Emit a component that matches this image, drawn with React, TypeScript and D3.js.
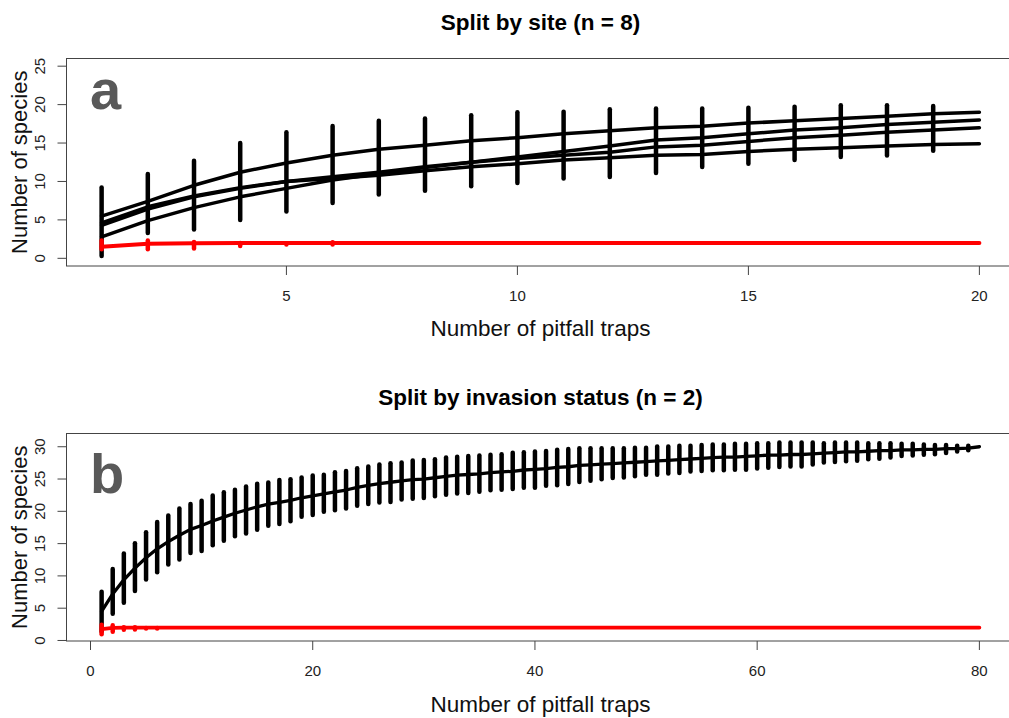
import React from 'react';
import * as d3 from 'd3';

// ---- panel a: split by site ----
const siteCurve1 = [5.5, 7.4, 9.5, 11.2, 12.4, 13.4, 14.2, 14.7, 15.3, 15.7, 16.2, 16.6, 17.0, 17.2, 17.6, 17.9, 18.2, 18.5, 18.8, 19.0];
const siteCurve2 = [2.8, 4.9, 6.6, 8.0, 9.1, 10.2, 11.0, 11.8, 12.5, 13.2, 13.9, 14.6, 15.4, 15.7, 16.2, 16.7, 17.0, 17.4, 17.7, 18.0];
const siteCurve3 = [4.3, 6.4, 8.0, 9.1, 10.0, 10.6, 11.2, 11.9, 12.5, 13.0, 13.4, 13.8, 14.5, 14.7, 15.2, 15.7, 16.0, 16.4, 16.7, 17.0];
const siteCurve4 = [4.6, 6.7, 8.1, 9.2, 10.0, 10.4, 10.8, 11.4, 11.9, 12.3, 12.8, 13.1, 13.4, 13.5, 13.9, 14.2, 14.4, 14.6, 14.8, 14.9];
const siteBarLow = [0.0, 3.0, 3.45, 4.7, 5.8, 6.9, 8.0, 8.5, 9.1, 9.5, 10.1, 10.3, 10.8, 11.6, 12.0, 12.5, 12.9, 13.1, 13.7];
const siteBarHigh = [9.5, 11.25, 13.0, 15.3, 16.7, 17.5, 18.2, 18.5, 18.9, 19.3, 19.35, 19.7, 19.8, 19.8, 19.9, 20.0, 20.2, 20.2, 20.1];
const siteRed = [1.5, 1.9, 1.95, 2.0, 2.0, 2.0, 2.0, 2.0, 2.0, 2.0, 2.0, 2.0, 2.0, 2.0, 2.0, 2.0, 2.0, 2.0, 2.0, 2.0];
const siteRedLow = [0.9, 0.9, 1.0, 1.3, 1.5, 1.8];
const siteRedHigh = [2.6, 2.6, 2.4, 2.3, 2.2, 2.1];
const siteXTicks = [5, 10, 15, 20];
const siteYTicks = [0, 5, 10, 15, 20, 25];

// ---- panel b: split by invasion status ----
const statusCurve = [4.5, 7.2, 9.4, 11.2, 12.8, 14.2, 15.3, 16.3, 17.2, 17.8, 18.5, 19.1, 19.7, 20.2, 20.7, 21.1, 21.4, 21.7, 22.1, 22.4,
  22.7, 23.0, 23.3, 23.7, 24.0, 24.3, 24.5, 24.7, 24.9, 25.0, 25.2, 25.4, 25.6, 25.7, 25.8, 26.0, 26.1, 26.2, 26.4, 26.5,
  26.6, 26.8, 26.9, 27.1, 27.2, 27.3, 27.4, 27.5, 27.6, 27.7, 27.8, 27.9, 28.0, 28.1, 28.2, 28.3, 28.4, 28.4, 28.5, 28.6,
  28.7, 28.7, 28.8, 28.8, 28.9, 29.0, 29.1, 29.2, 29.2, 29.3, 29.4, 29.4, 29.5, 29.5, 29.6, 29.6, 29.7, 29.7, 29.8, 30.0];
const statusBarLow = [1.0, 3.8, 5.5, 7.3, 9.1, 10.2, 11.4, 12.2, 13.2, 13.5, 14.4, 15.1, 15.8, 16.2, 16.8, 17.4, 17.7, 18.1, 18.8, 19.1,
  19.6, 19.8, 20.1, 20.5, 20.8, 21.0, 21.1, 21.5, 21.6, 21.7, 22.0, 22.2, 22.4, 22.5, 22.7, 22.9, 23.0, 23.1, 23.3, 23.3,
  23.6, 23.7, 23.9, 24.2, 24.4, 24.6, 24.8, 24.9, 25.1, 25.3, 25.3, 25.5, 25.6, 25.8, 25.9, 26.0, 26.0, 26.1, 26.1, 26.3,
  26.4, 26.5, 26.6, 26.6, 26.9, 27.2, 27.3, 27.4, 27.5, 27.7, 27.8, 28.0, 28.2, 28.3, 28.4, 28.5, 28.7, 28.9, 29.1];
const statusBarHigh = [7.9, 11.4, 13.8, 15.4, 17.1, 18.7, 19.7, 20.8, 21.5, 22.0, 22.8, 23.3, 23.7, 24.2, 24.6, 24.8, 25.2, 25.3, 25.6, 25.9,
  26.0, 26.4, 26.6, 27.0, 27.3, 27.6, 27.8, 27.9, 28.2, 28.3, 28.4, 28.7, 28.8, 28.9, 29.0, 29.1, 29.2, 29.4, 29.5, 29.6,
  29.7, 29.9, 30.0, 30.1, 30.1, 30.1, 30.1, 30.1, 30.2, 30.2, 30.4, 30.4, 30.5, 30.5, 30.6, 30.7, 30.7, 30.8, 30.8, 30.9,
  30.9, 31.0, 31.0, 31.0, 31.0, 30.9, 31.0, 31.0, 31.0, 30.9, 30.9, 30.9, 30.8, 30.8, 30.7, 30.6, 30.6, 30.5, 30.5];
const statusRedFirst = [1.75, 1.95];
const statusRedLevel = 2.0;
const statusRedLow = [0.6, 1.0, 1.3, 1.35, 1.5, 1.5];
const statusRedHigh = [2.8, 2.7, 2.4, 2.4, 2.3, 2.3];
const statusXTicks = [0, 20, 40, 60, 80];
const statusYTicks = [0, 5, 10, 15, 20, 25, 30];

const W = 1009;
const H = 718;
const FONT = '"Liberation Sans", Arial, Helvetica, sans-serif';

type Band = { lo: number[]; hi: number[] };

interface PanelProps {
  top: number;
  bottom: number;
  xDomain: [number, number];
  yDomain: [number, number];
  curves: number[][];
  bars: Band;
  red: number[];
  redBars: Band;
  xTicks: number[];
  yTicks: number[];
  title: string;
  titleY: number;
  letter: string;
  letterY: number;
  xLabelY: number;
  barWidth: number;
  lineWidth: number;
}

const Panel = (p: PanelProps) => {
  const left = 66.5;
  const right = 1014.5;
  const x = d3.scaleLinear().domain(p.xDomain).range([left, right]);
  const y = d3.scaleLinear().domain(p.yDomain).range([p.bottom, p.top]);
  const line = d3.line<number>().x((_, i) => x(i + 1)).y(d => y(d));
  const cap = p.barWidth / 2;

  const bar = (i: number, lo: number, hi: number, color: string, w: number, key: string) => (
    <line key={key} x1={x(i + 1)} x2={x(i + 1)} y1={y(lo) - cap} y2={y(hi) + cap}
      stroke={color} strokeWidth={w} strokeLinecap="round" />
  );

  return (
    <g>
      {/* black error bars and curves */}
      {p.bars.lo.map((lo, i) => bar(i, lo, p.bars.hi[i], '#000', p.barWidth, `b${i}`))}
      {p.curves.map((c, i) => (
        <path key={`c${i}`} d={line(c) || ''} fill="none" stroke="#000" strokeWidth={p.lineWidth}
          strokeLinejoin="round" strokeLinecap="round" />
      ))}
      {/* red series on top */}
      <path d={line(p.red) || ''} fill="none" stroke="#ff0000" strokeWidth={p.lineWidth + 0.5}
        strokeLinejoin="round" strokeLinecap="round" />
      {p.redBars.lo.map((lo, i) => bar(i, lo, p.redBars.hi[i], '#ff0000', p.barWidth, `r${i}`))}

      {/* box */}
      <rect x={left} y={p.top} width={right - left} height={p.bottom - p.top} fill="none" stroke="#444" strokeWidth={1} />

      {/* x axis */}
      {p.xTicks.map(t => (
        <g key={`xt${t}`}>
          <line x1={x(t)} x2={x(t)} y1={p.bottom} y2={p.bottom + 9} stroke="#444" />
          <text x={x(t)} y={p.bottom + 35} textAnchor="middle" fontSize={15} fill="#222" fontFamily={FONT}>{t}</text>
        </g>
      ))}
      {/* y axis */}
      {p.yTicks.map(t => (
        <g key={`yt${t}`}>
          <line x1={left - 9} x2={left} y1={y(t)} y2={y(t)} stroke="#444" />
          <text transform={`translate(45,${y(t)}) rotate(-90)`} textAnchor="middle" fontSize={15} fill="#222" fontFamily={FONT}>{t}</text>
        </g>
      ))}

      <text x={90} y={p.letterY} fontSize={56} fontWeight="bold" fill="#595959" fontFamily={FONT}>{p.letter}</text>
      <text x={(left + right) / 2} y={p.titleY} textAnchor="middle" fontSize={22.5} fontWeight="bold" fill="#000" fontFamily={FONT}>{p.title}</text>
      <text x={(left + right) / 2} y={p.xLabelY} textAnchor="middle" fontSize={22.5} fill="#111" fontFamily={FONT}>Number of pitfall traps</text>
      <text transform={`translate(27,${(p.top + p.bottom) / 2}) rotate(-90)`} textAnchor="middle" fontSize={22} fill="#111" fontFamily={FONT}>Number of species</text>
    </g>
  );
};

const App = () => {
  const statusRed = statusCurve.map((_, i) => (i < statusRedFirst.length ? statusRedFirst[i] : statusRedLevel));
  return (
    <svg width={W} height={H} style={{ position: 'absolute', left: 0, top: 0, background: '#fff' }}>
      <rect width={W} height={H} fill="#fff" />
      <Panel
        top={58.5} bottom={266}
        xDomain={[1 - 0.04 * 19, 20 + 0.04 * 19]} yDomain={[-1, 26]}
        curves={[siteCurve1, siteCurve2, siteCurve3, siteCurve4]}
        bars={{ lo: siteBarLow, hi: siteBarHigh }}
        red={siteRed}
        redBars={{ lo: siteRedLow, hi: siteRedHigh }}
        xTicks={siteXTicks} yTicks={siteYTicks}
        title="Split by site (n = 8)" titleY={30}
        letter="a" letterY={109}
        xLabelY={336}
        barWidth={4.5} lineWidth={3.5}
      />
      <Panel
        top={433.5} bottom={641}
        xDomain={[1 - 0.04 * 79, 80 + 0.04 * 79]} yDomain={[-0.08, 32.05]}
        curves={[statusCurve]}
        bars={{ lo: statusBarLow, hi: statusBarHigh }}
        red={statusRed}
        redBars={{ lo: statusRedLow, hi: statusRedHigh }}
        xTicks={statusXTicks} yTicks={statusYTicks}
        title="Split by invasion status (n = 2)" titleY={405}
        letter="b" letterY={493}
        xLabelY={712}
        barWidth={4.5} lineWidth={3.3}
      />
    </svg>
  );
};

export default App;
